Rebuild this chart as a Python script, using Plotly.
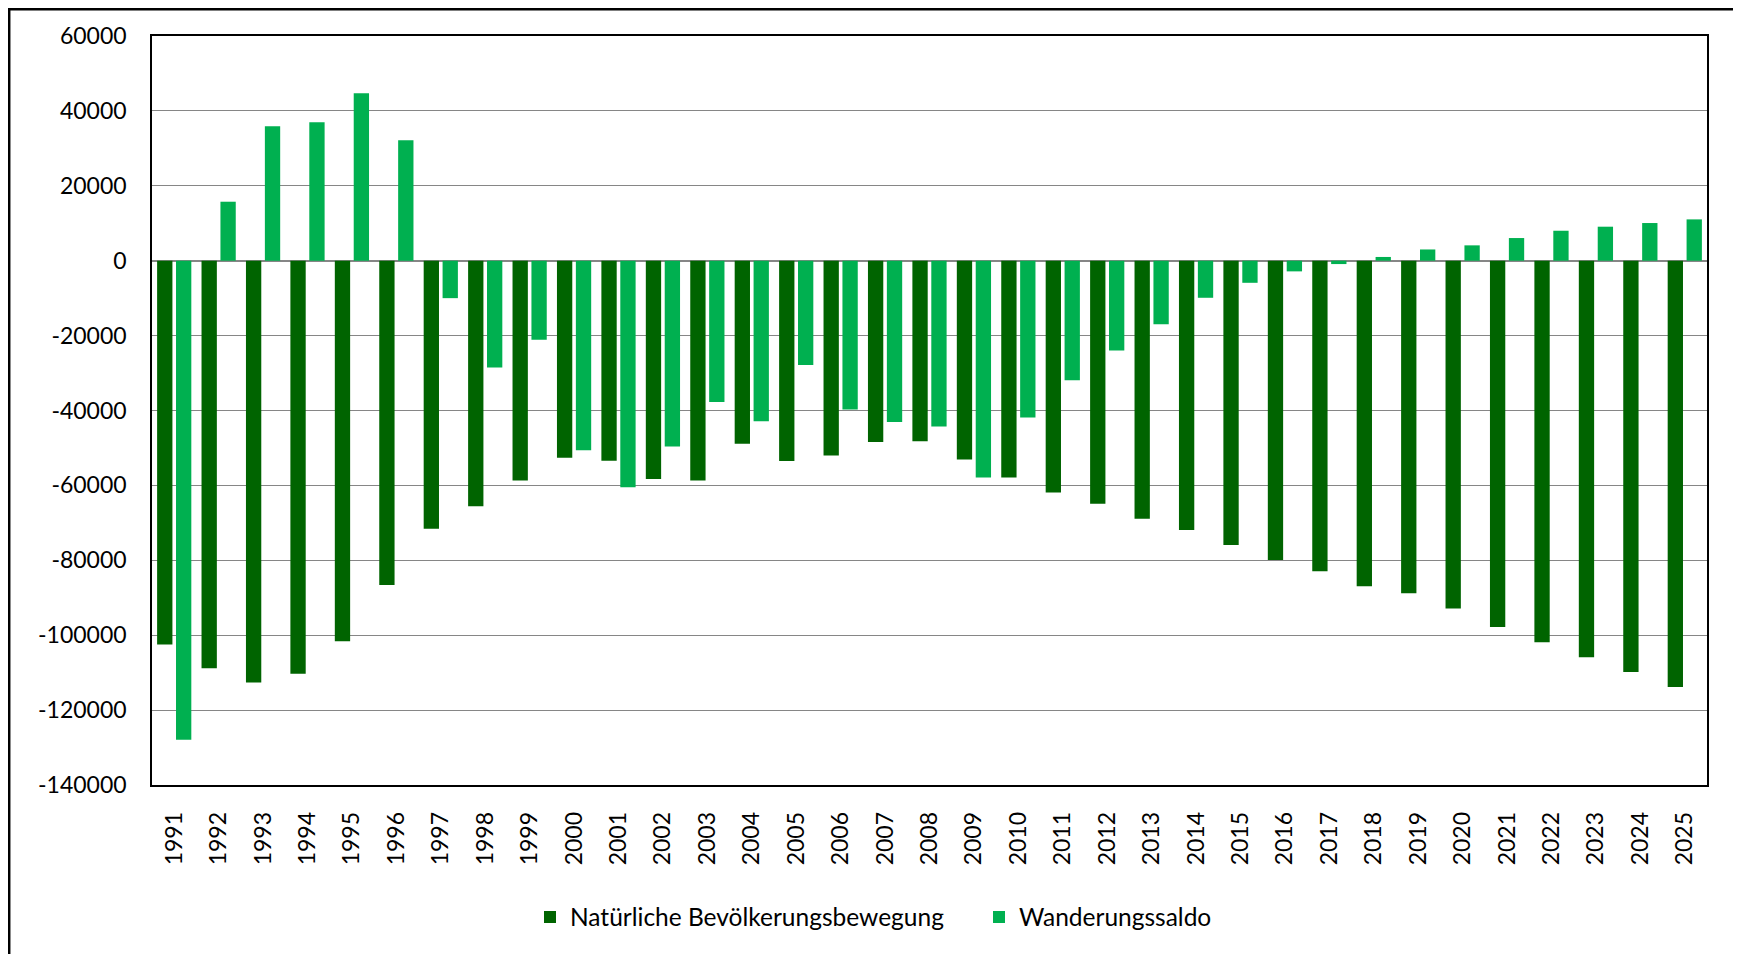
import plotly.graph_objects as go

years = [str(y) for y in range(1991, 2026)]
natuerlich = [-102500, -108800, -112600, -110300, -101600, -86600, -71600, -65600, -58700, -52600,
              -53400, -58300, -58700, -48900, -53500, -52000, -48400, -48200, -53100, -57900,
              -61900, -64900, -68900, -71900, -75900, -79900, -82900, -86900, -88800, -92900,
              -97800, -101900, -105900, -109800, -113800]
wanderung = [-127900, 15750, 35900, 36950, 44700, 32150, -10000, -28500, -21100, -50600,
             -60500, -49600, -37700, -42900, -27850, -39700, -43100, -44300, -57900, -41900,
             -31900, -23950, -17000, -9900, -5900, -2850, -900, 1000, 3000, 4100,
             6050, 8000, 9080, 10060, 11030]
y_ticks = [60000, 40000, 20000, 0, -20000, -40000, -60000, -80000, -100000, -120000, -140000]

# page body has an 8px margin, so figure coordinates = screen - 8
W, H = 1733, 946
L, R, T, B = 144, 1699, 28, 777
FONT = "Lato"

fig = go.Figure()
fig.add_trace(go.Bar(x=years, y=natuerlich, name="Natürliche Bevölkerungsbewegung",
                     marker=dict(color="#006400", line=dict(width=0))))
fig.add_trace(go.Bar(x=years, y=wanderung, name="Wanderungssaldo",
                     marker=dict(color="#00B050", line=dict(width=0))))

pw, ph = R - L, B - T
fig.update_layout(
    width=W, height=H,
    margin=dict(l=L, r=W - R, t=T, b=H - B, pad=0),
    paper_bgcolor="white", plot_bgcolor="white",
    barmode="group", bargap=0.149, bargroupgap=0.19,
    font=dict(family=FONT, size=23, color="black"),
    showlegend=True,
    legend=dict(orientation="h", x=(522 - L) / pw, xanchor="left",
                y=(B - 909) / ph, yanchor="middle",
                font=dict(family=FONT, size=24.5, color="black"),
                entrywidth=404, entrywidthmode="pixels",
                bgcolor="rgba(0,0,0,0)"),
)
fig.update_yaxes(range=[-140000, 60000], tickvals=y_ticks, ticktext=[str(v) for v in y_ticks],
                 showgrid=True, gridcolor="#868686", gridwidth=1.3,
                 zeroline=True, zerolinecolor="#868686", zerolinewidth=1.5,
                 showline=True, linecolor="black", linewidth=1.5, mirror=True,
                 ticks="", ticklabelstandoff=19, tickfont=dict(family=FONT, size=23))
fig.update_xaxes(tickangle=-90, showline=True, linecolor="black", linewidth=1.5, mirror=True,
                 ticks="", ticklabelstandoff=16, tickfont=dict(family=FONT, size=23),
                 showgrid=False)

# outer chart border (its bottom edge lies beyond the page)
fig.add_shape(type="rect", xref="paper", yref="paper",
              x0=(1.2 - L) / pw, x1=(1728.7 - L) / pw,
              y0=(B - 952) / ph, y1=(B - 1.2) / ph,
              line=dict(color="black", width=2.5), fillcolor="rgba(0,0,0,0)", layer="below")

fig.write_html("out.html")
